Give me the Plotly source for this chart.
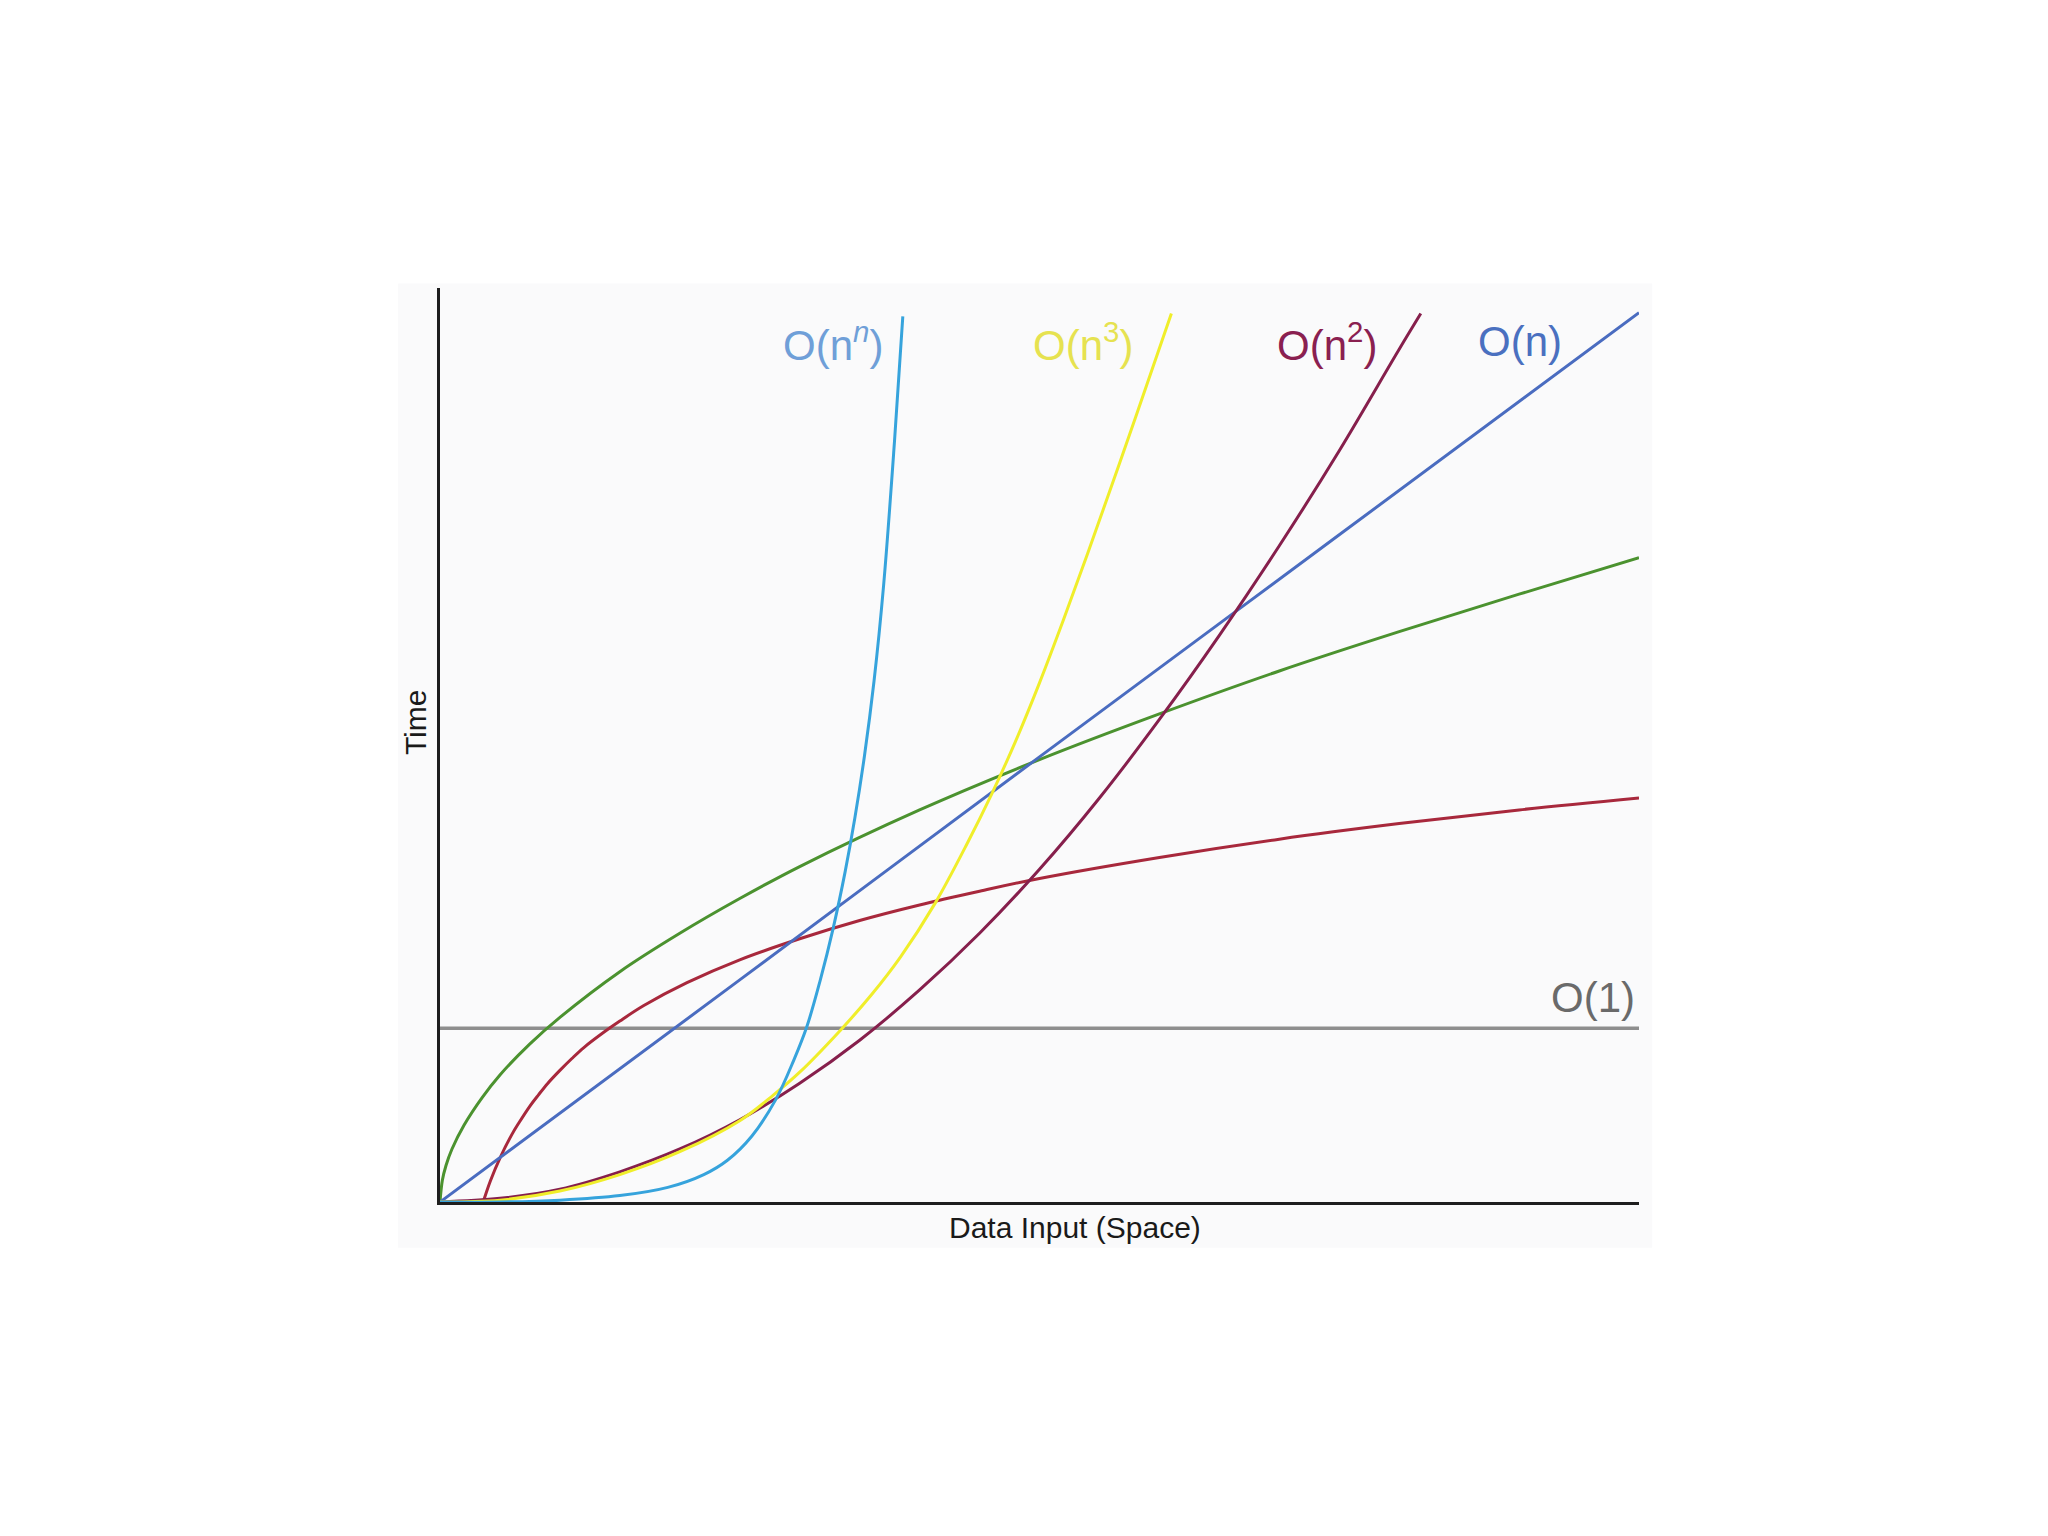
import plotly.graph_objects as go

# ---- data (x: data input, y: time) ----
const_x = [0.0, 2.5, 5.0, 7.5, 10.0]
const_y = [1.90, 1.90, 1.90, 1.90, 1.90]

log_x = [0.36, 0.38, 0.42, 0.50, 0.60, 0.66, 0.75, 0.82, 0.90, 1.00, 1.10, 1.20, 1.38, 1.50,
         1.70, 2.06, 2.50, 3.00, 3.50, 4.00, 4.50, 5.00, 6.00, 7.00, 8.00, 9.00, 10.0]
log_y = [0.00, 0.08, 0.23, 0.48, 0.74, 0.87, 1.05, 1.17, 1.30, 1.44, 1.57, 1.69, 1.87, 1.98,
         2.15, 2.40, 2.65, 2.88, 3.08, 3.25, 3.40, 3.54, 3.77, 3.97, 4.14, 4.29, 4.42]

sqrt_x = [0.0, 0.02, 0.05, 0.10, 0.20, 0.35, 0.50, 0.75, 1.0, 1.5, 2.0, 2.5, 3.0, 4.0, 5.0,
          6.0, 7.0, 8.0, 9.0, 10.0]
sqrt_y = [0.0, 0.24, 0.40, 0.58, 0.84, 1.14, 1.39, 1.73, 2.02, 2.52, 2.94, 3.32, 3.67, 4.29,
          4.84, 5.34, 5.81, 6.24, 6.65, 7.05]

lin_x = [0.0, 2.5, 5.0, 7.5, 10.0]
lin_y = [0.0, 2.43, 4.87, 7.30, 9.73]

sq_x = [0.0, 0.5, 1.0, 1.5, 2.0, 2.5, 3.0, 3.5, 4.0, 4.5, 5.0, 5.5, 6.0, 6.5, 7.0, 7.5, 8.0, 8.18]
sq_y = [0.0, 0.04, 0.14, 0.33, 0.58, 0.90, 1.30, 1.77, 2.32, 2.94, 3.64, 4.42, 5.28, 6.20, 7.18,
        8.22, 9.33, 9.72]

cub_x = [0.0, 0.5, 1.0, 1.5, 2.0, 2.5, 2.78, 3.0, 3.34, 3.6, 3.84, 4.13, 4.4, 4.6, 4.8, 5.0,
         5.2, 5.4, 5.6, 5.8, 6.1]
cub_y = [0.0, 0.02, 0.12, 0.30, 0.55, 0.89, 1.17, 1.42, 1.88, 2.27, 2.68, 3.27, 3.93, 4.46,
         5.04, 5.68, 6.37, 7.09, 7.83, 8.58, 9.72]

exp_x = [0.0, 0.5, 1.0, 1.5, 1.9, 2.2, 2.4, 2.6, 2.8, 2.95, 3.06, 3.17, 3.28, 3.38, 3.46,
         3.54, 3.62, 3.70, 3.79, 3.86]
exp_y = [0.0, 0.0, 0.02, 0.07, 0.16, 0.30, 0.46, 0.72, 1.12, 1.55, 1.92, 2.42, 3.00, 3.62,
         4.20, 4.88, 5.70, 6.75, 8.31, 9.69]

labels = ["O(1)", "O(log n)", "O(\u221an)", "O(n)", "O(n<sup>2</sup>)", "O(n<sup>3</sup>)",
          "O(n<sup><i>n</i></sup>)"]

series = [
    (const_x, const_y, "#8e8e8e", 3.5),
    (log_x, log_y, "#a8283c", 3),
    (sqrt_x, sqrt_y, "#4b922f", 3),
    (lin_x, lin_y, "#4a6cc0", 3),
    (sq_x, sq_y, "#861f4c", 3),
    (cub_x, cub_y, "#f0ee2a", 3),
    (exp_x, exp_y, "#36a3dc", 3),
]

label_colors = ["#6a6a6a", "#a3223c", "#4b9a30", "#4a70c0", "#8a2050", "#e6e250", "#6f9fd8"]
label_pos = [
    (9.98, 2.24, "right"),
    (10.03, 4.79, "right"),
    (10.05, 7.41, "right"),
    (9.01, 9.41, "center"),
    (7.40, 9.41, "center"),
    (5.36, 9.41, "center"),
    (3.28, 9.41, "center"),
]

FONT = "Liberation Sans, Arial, sans-serif"

fig = go.Figure()
for (xs, ys, col, w) in series:
    fig.add_trace(go.Scatter(x=xs, y=ys, mode="lines",
                             line=dict(color=col, width=w, shape="spline", smoothing=1.0),
                             showlegend=False, hoverinfo="skip"))

for lab, col, (ax, ay, anc) in zip(labels, label_colors, label_pos):
    fig.add_annotation(x=ax, y=ay, xref="x", yref="y", text=lab, showarrow=False,
                       xanchor=anc, yanchor="middle",
                       font=dict(family=FONT, size=42, color=col))

# axis titles (paper coordinates so they can sit outside the plot area)
fig.add_annotation(x=0.5296, y=-0.0284, xref="paper", yref="paper", text="Data Input (Space)",
                   showarrow=False, xanchor="center", yanchor="middle",
                   font=dict(family=FONT, size=30, color="#1a1a1a"))
fig.add_annotation(x=-0.0209, y=0.525, xref="paper", yref="paper", text="Time", showarrow=False,
                   textangle=-90, xanchor="center", yanchor="middle",
                   font=dict(family=FONT, size=30, color="#1a1a1a"))

# subtle light panel behind the chart
fig.add_shape(type="rect", xref="paper", yref="paper", x0=-0.035, x1=1.011, y0=-0.05, y1=1.005,
              fillcolor="#fafafb", line=dict(width=0), layer="below")

fig.update_layout(
    width=2032, height=1520,
    margin=dict(l=432, r=401, t=280, b=326),
    paper_bgcolor="white", plot_bgcolor="rgba(0,0,0,0)",
    font=dict(family=FONT, color="#222"),
)
fig.update_xaxes(range=[0, 10], showgrid=False, zeroline=False, showticklabels=False, ticks="",
                 showline=True, linecolor="#1e1e1e", linewidth=3)
fig.update_yaxes(range=[0, 10], showgrid=False, zeroline=False, showticklabels=False, ticks="",
                 showline=True, linecolor="#1e1e1e", linewidth=3)

fig.write_html("out.html")
